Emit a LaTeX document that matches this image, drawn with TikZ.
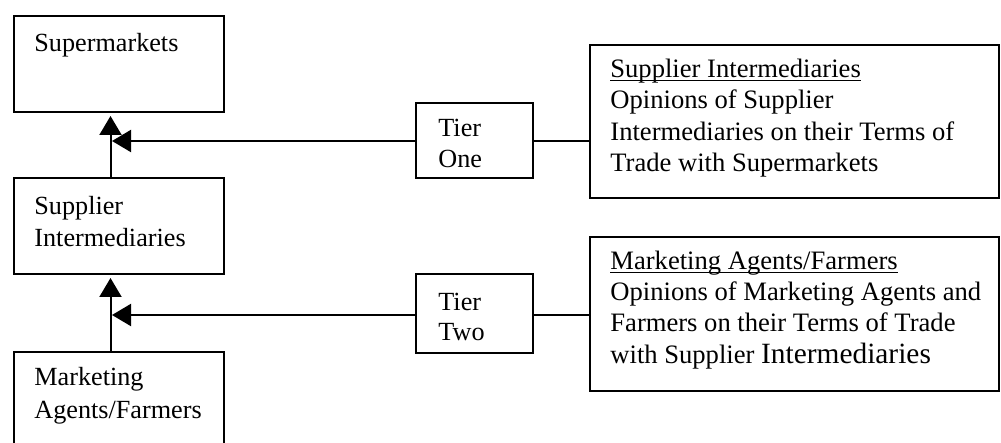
\documentclass[tikz,border=0pt]{standalone}
\usepackage{fontspec}
\setmainfont{Liberation Serif}
\usetikzlibrary{arrows.meta,fit}
% underline set just below the baseline
\newcommand\ulined[1]{\setbox0\hbox{#1}\rlap{\rule[-2pt]{\wd0}{0.6pt}}\box0}
\begin{document}
\begin{tikzpicture}[x=0.5pt,y=-0.5pt,
  box/.style={draw, line width=1pt, inner sep=0pt},
  % labels are placed by the baseline of their last line
  lbl/.style={anchor=base west, inner sep=0pt, align=left,
    font=\fontsize{13.1pt}{16pt}\selectfont},
  link/.style={line width=1pt},
  up/.style={line width=1pt, -{Triangle[length=9.5pt,width=11pt]}}]
\clip (0,0) rectangle (1001,443);

% chain of actors on the left
\node[box, fit={(14,16) (224,112)}] (super) {};
\node[box, fit={(14,178) (224,274)}] (inter) {};
\node[box, fit={(14,352) (224,470)}] (farm) {};
\node[lbl] (superT) at (34,52) {Supermarkets};
\node[lbl] (interT) at (34,247) {Supplier\\Intermediaries};
\node[lbl] (farmT) at (34,418) {Marketing\\[0.5pt]Agents/Farmers};

% tier boxes
\node[box, fit={(416,103) (533,178)}] (tier1) {};
\node[box, fit={(416,274) (533,353)}] (tier2) {};
\node[lbl, font=\fontsize{13.1pt}{15.5pt}\selectfont] (tier1T) at (438,168) {Tier\\One};
\node[lbl, font=\fontsize{13.1pt}{14.5pt}\selectfont] (tier2T) at (438,340) {Tier\\Two};

% description boxes on the right
\node[box, fit={(590,45) (999,198)}] (desc1) {};
\node[box, fit={(590,237) (999,391)}] (desc2) {};
\node[lbl, font=\fontsize{13.3pt}{15.8pt}\selectfont] (desc1T) at (610,172)
  {\ulined{Supplier Intermediaries}\\Opinions of Supplier\\Intermediaries on their Terms of\\Trade with Supermarkets};
\node[lbl, font=\fontsize{13.3pt}{15.6pt}\selectfont] (desc2T) at (610,363)
  {\ulined{Marketing Agents/Farmers}\\Opinions of Marketing Agents and\\Farmers on their Terms of Trade\\with Supplier {\fontsize{14.7pt}{15.6pt}\selectfont Intermediaries}};

% axis of the upward flow and tips of the tier arrows
\coordinate (ax) at (110.5,0);
\coordinate (t1) at (112,141);
\coordinate (t2) at (112,315);

% upward flows
\draw[up, shorten >=1.5pt] (inter.north -| ax) -- (super.south -| ax);
\draw[up, shorten >=1.5pt] (farm.north -| ax) -- (inter.south -| ax);

% tier connectors
\draw[up] (tier1.west |- t1) -- (t1);
\draw[up] (tier2.west |- t2) -- (t2);
\draw[link] (tier1.east |- t1) -- (desc1.west |- t1);
\draw[link] (tier2.east |- t2) -- (desc2.west |- t2);
\end{tikzpicture}
\end{document}
